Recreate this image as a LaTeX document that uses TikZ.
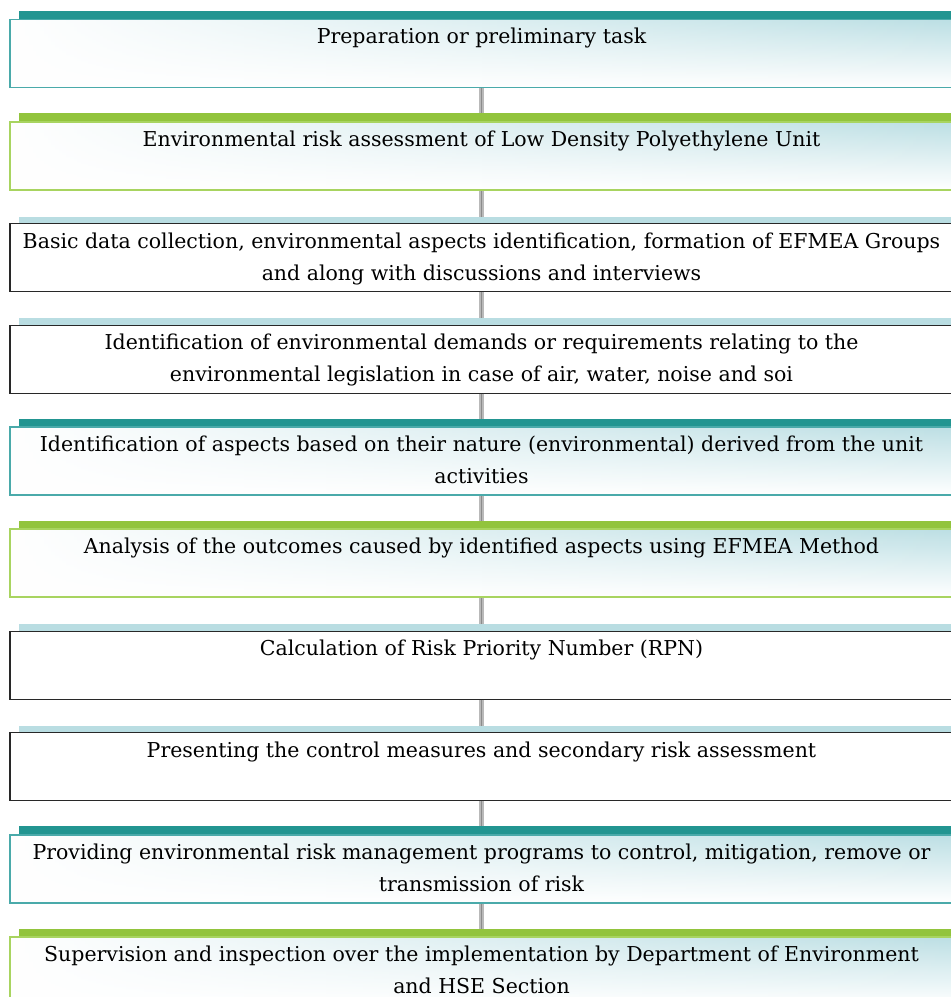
\documentclass[tikz,border=0pt]{standalone}
\usepackage{fontspec}
\setmainfont{DejaVu Serif}
\usetikzlibrary{positioning,fadings}

\definecolor{tealbar}{RGB}{34,149,145}
\definecolor{tealline}{RGB}{74,170,170}
\definecolor{greenbar}{RGB}{146,196,61}
\definecolor{greenline}{RGB}{168,212,96}
\definecolor{bluebar}{RGB}{185,221,226}
\definecolor{glowblue}{RGB}{188,223,228}
\definecolor{darkline}{RGB}{40,40,40}

\tikzfading[name=boxfade, left color=transparent!100, middle color=transparent!65, right color=transparent!0]

\tikzset{
  stepbox/.style={minimum width=943pt, minimum height=68pt, inner sep=0pt},
  glowfill/.style={path picture={
      \fill[top color=glowblue, bottom color=white, path fading=boxfade]
        (path picture bounding box.south west) rectangle (path picture bounding box.north east);}},
  tealstep/.style={stepbox, draw=tealline, line width=1.8pt, fill=white, glowfill},
  greenstep/.style={stepbox, draw=greenline, line width=1.8pt, fill=white, glowfill},
  plainstep/.style={stepbox, draw=darkline, line width=1.2pt, fill=white},
  steptext/.style={font=\fontsize{20.5}{32}\selectfont, align=center, inner sep=0pt},
  link/.style={draw=gray!55, double=gray!90, double distance=1.6pt, line width=1.4pt}
}

\begin{document}
\begin{tikzpicture}
  \useasboundingbox (0,0) rectangle (951pt,-997pt);
  \clip (0,0) rectangle (951pt,-997pt);

  % steps
  \node[tealstep] (s1) at (481.5pt,-53.5pt) {};
  \node[greenstep, below=32.4pt of s1] (s2) {};
  \node[plainstep, below=32.4pt of s2] (s3) {};
  \node[plainstep, below=32.4pt of s3] (s4) {};
  \node[tealstep, below=32.4pt of s4] (s5) {};
  \node[greenstep, below=32.4pt of s5] (s6) {};
  \node[plainstep, below=32.4pt of s6] (s7) {};
  \node[plainstep, below=32.4pt of s7] (s8) {};
  \node[tealstep, below=32.4pt of s8] (s9) {};
  \node[greenstep, below=32.4pt of s9] (s10) {};

  % top bars
  \fill[tealbar] ([xshift=10pt]s1.north west) rectangle ([yshift=7.5pt]s1.north east);
  \fill[greenbar] ([xshift=10pt]s2.north west) rectangle ([yshift=7.5pt]s2.north east);
  \fill[bluebar] ([xshift=10pt]s3.north west) rectangle ([yshift=6.5pt]s3.north east);
  \fill[bluebar] ([xshift=10pt]s4.north west) rectangle ([yshift=6.5pt]s4.north east);
  \fill[tealbar] ([xshift=10pt]s5.north west) rectangle ([yshift=7.5pt]s5.north east);
  \fill[greenbar] ([xshift=10pt]s6.north west) rectangle ([yshift=7.5pt]s6.north east);
  \fill[bluebar] ([xshift=10pt]s7.north west) rectangle ([yshift=6.5pt]s7.north east);
  \fill[bluebar] ([xshift=10pt]s8.north west) rectangle ([yshift=6.5pt]s8.north east);
  \fill[tealbar] ([xshift=10pt]s9.north west) rectangle ([yshift=7.5pt]s9.north east);
  \fill[greenbar] ([xshift=10pt]s10.north west) rectangle ([yshift=7.5pt]s10.north east);

  % texts
  \node[steptext, below=9.5pt of s1.north] (t1) {Preparation or preliminary task};
  \node[steptext, below=9.5pt of s2.north] (t2) {Environmental risk assessment of Low Density Polyethylene Unit};
  \node[steptext, below=9.5pt of s3.north] (t3) {Basic data collection, environmental aspects identification, formation of EFMEA Groups\\ and along with discussions and interviews};
  \node[steptext, below=9.5pt of s4.north] (t4) {Identification of environmental demands or requirements relating to the\\ environmental legislation in case of air, water, noise and soi};
  \node[steptext, below=9.5pt of s5.north] (t5) {Identification of aspects based on their nature (environmental) derived from the unit\\ activities};
  \node[steptext, below=9.5pt of s6.north] (t6) {Analysis of the outcomes caused by identified aspects using EFMEA Method};
  \node[steptext, below=9.5pt of s7.north] (t7) {Calculation of Risk Priority Number (RPN)};
  \node[steptext, below=9.5pt of s8.north] (t8) {Presenting the control measures and secondary risk assessment};
  \node[steptext, below=9.5pt of s9.north] (t9) {Providing environmental risk management programs to control, mitigation, remove or\\ transmission of risk};
  \node[steptext, below=9.5pt of s10.north] (t10) {Supervision and inspection over the implementation by Department of Environment\\ and HSE Section};

  % connectors
  \draw[link] (s1.south) -- ([yshift=7.5pt]s2.north);
  \draw[link] (s2.south) -- ([yshift=6.5pt]s3.north);
  \draw[link] (s3.south) -- ([yshift=6.5pt]s4.north);
  \draw[link] (s4.south) -- ([yshift=7.5pt]s5.north);
  \draw[link] (s5.south) -- ([yshift=7.5pt]s6.north);
  \draw[link] (s6.south) -- ([yshift=6.5pt]s7.north);
  \draw[link] (s7.south) -- ([yshift=6.5pt]s8.north);
  \draw[link] (s8.south) -- ([yshift=7.5pt]s9.north);
  \draw[link] (s9.south) -- ([yshift=7.5pt]s10.north);
\end{tikzpicture}
\end{document}
